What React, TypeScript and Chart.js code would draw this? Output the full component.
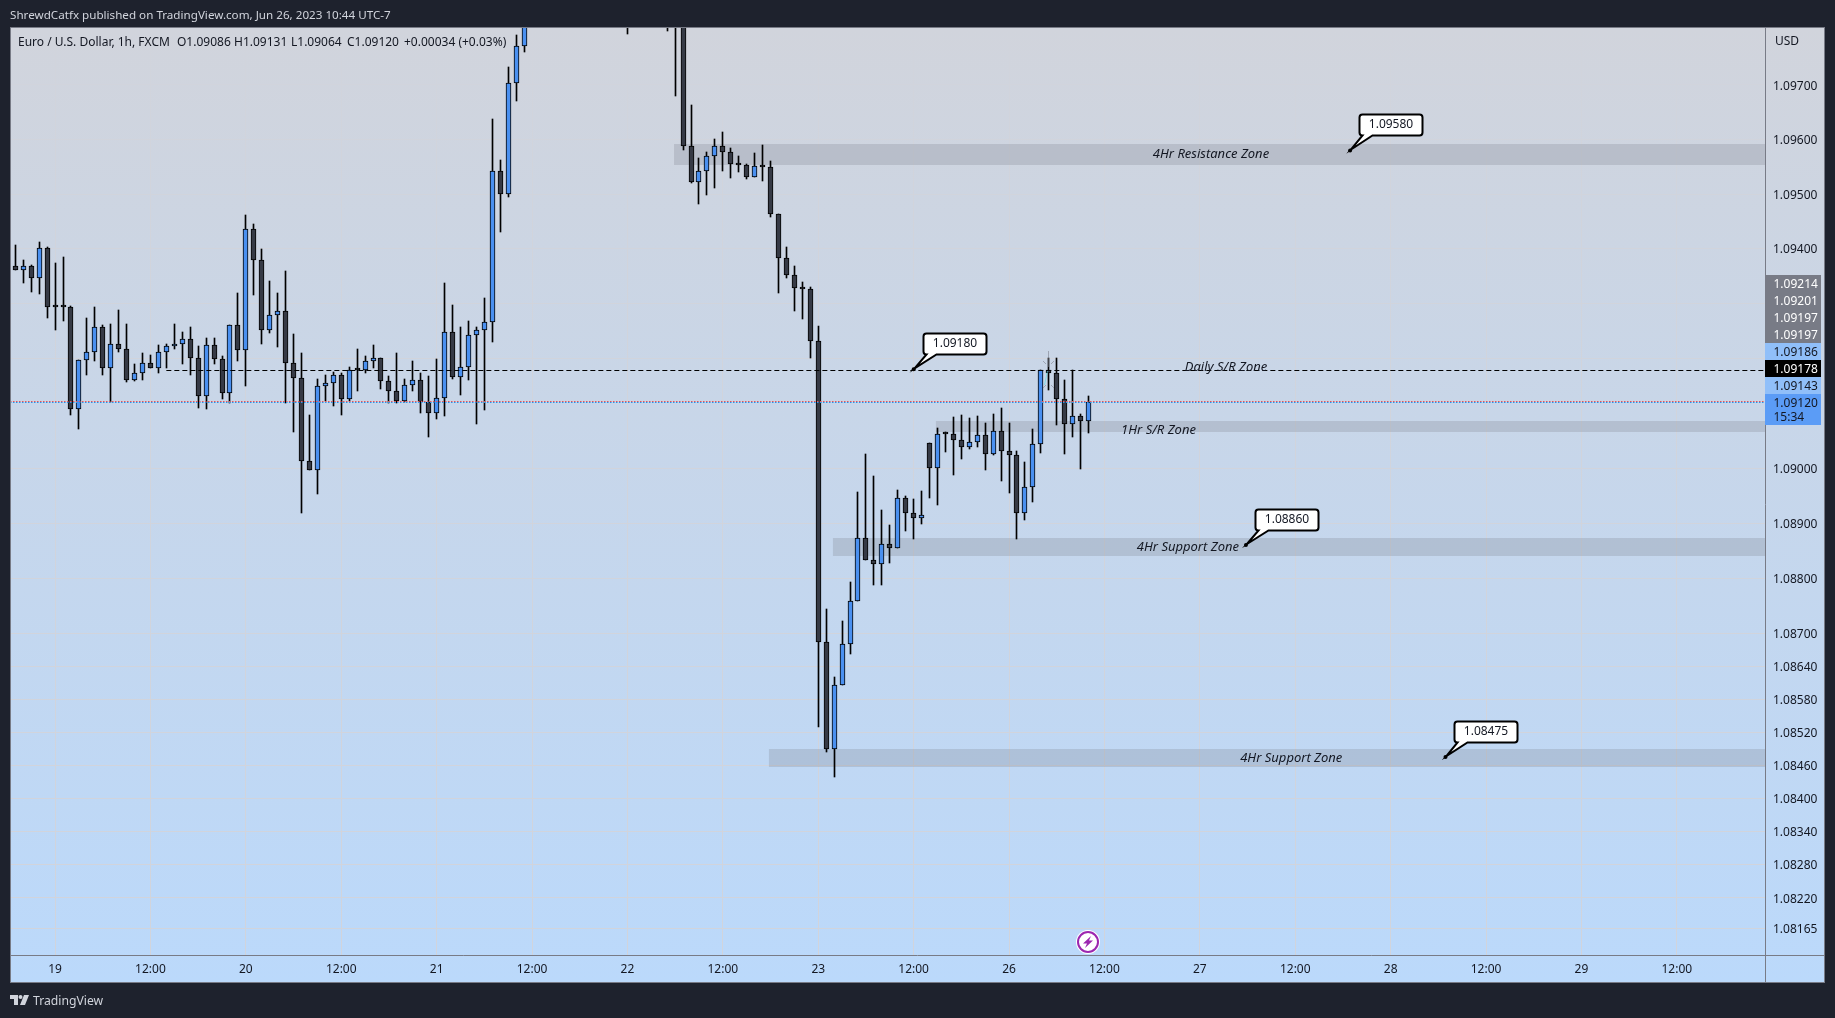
import React, { useEffect, useRef } from "react";
import { Chart, registerables } from "chart.js";

Chart.register(...registerables);

const opens = [
  1.09368,1.09362,1.09368,1.09346,1.09401,1.09293,1.09293,1.09293,1.09107,1.09197,
  1.09211,1.09258,1.09182,1.09227,1.09217,1.09160,1.09173,1.09191,1.09182,1.09211,
  1.09222,1.09227,1.09235,1.09200,1.09131,1.09224,1.09198,1.09136,1.09260,1.09215,
  1.09437,1.09379,1.09251,1.09280,1.09286,1.09191,1.09164,1.09012,1.08996,1.09149,
  1.09155,1.09169,1.09125,1.09178,1.09178,1.09195,1.09200,1.09158,1.09140,1.09122,
  1.09151,1.09160,1.09120,1.09100,1.09127,1.09248,1.09166,1.09184,1.09242,1.09251,
  1.09266,1.09543,1.09501,1.09703,1.09771,1.09836,1.09892,1.09951,1.09986,1.09965,
  1.09942,1.09958,1.09945,1.09918,1.09935,1.09925,1.09892,1.09905,1.09860,1.09890,
  1.09875,1.09880,1.09868,1.09850,1.09820,1.09588,1.09522,1.09543,1.09570,1.09588,
  1.09578,1.09556,1.09554,1.09532,1.09552,1.09550,1.09464,1.09384,1.09353,1.09328,
  1.09326,1.09231,1.08684,1.08489,1.08606,1.08680,1.08759,1.08872,1.08832,1.08825,
  1.08861,1.08855,1.08945,1.08918,1.08910,1.09045,1.09000,1.09063,1.09062,1.09051,
  1.09038,1.09047,1.09060,1.09025,1.09067,1.09031,1.09023,1.08918,1.08965,1.09043,
  1.09178,1.09173,1.09125,1.09080,1.09094,1.09086,
];
const closes = [
  1.09362,1.09368,1.09346,1.09401,1.09293,1.09293,1.09293,1.09107,1.09197,1.09211,
  1.09258,1.09182,1.09227,1.09217,1.09160,1.09173,1.09191,1.09182,1.09211,1.09222,
  1.09227,1.09235,1.09200,1.09131,1.09224,1.09198,1.09136,1.09260,1.09215,1.09437,
  1.09379,1.09251,1.09280,1.09286,1.09191,1.09164,1.09012,1.08996,1.09149,1.09155,
  1.09169,1.09125,1.09178,1.09178,1.09195,1.09200,1.09158,1.09140,1.09122,1.09151,
  1.09160,1.09120,1.09100,1.09127,1.09248,1.09166,1.09184,1.09242,1.09251,1.09266,
  1.09543,1.09501,1.09703,1.09771,1.09836,1.09892,1.09951,1.09986,1.09965,1.09942,
  1.09958,1.09945,1.09918,1.09935,1.09925,1.09892,1.09905,1.09860,1.09890,1.09875,
  1.09880,1.09868,1.09850,1.09820,1.09588,1.09522,1.09543,1.09570,1.09588,1.09578,
  1.09556,1.09554,1.09532,1.09552,1.09550,1.09464,1.09384,1.09353,1.09328,1.09326,
  1.09231,1.08684,1.08489,1.08606,1.08680,1.08759,1.08872,1.08832,1.08825,1.08861,
  1.08855,1.08945,1.08918,1.08910,1.08914,1.09000,1.09063,1.09062,1.09051,1.09038,
  1.09047,1.09060,1.09025,1.09067,1.09031,1.09023,1.08918,1.08965,1.09043,1.09178,
  1.09173,1.09125,1.09080,1.09094,1.09085,1.09120,
];
const highs = [
  1.09407,1.09379,1.09370,1.09412,1.09403,1.09375,1.09385,1.09296,1.09197,1.09274,
  1.09293,1.09260,1.09262,1.09288,1.09262,1.09189,1.09209,1.09206,1.09224,1.09226,
  1.09262,1.09248,1.09258,1.09222,1.09237,1.09237,1.09204,1.09260,1.09320,1.09461,
  1.09446,1.09399,1.09342,1.09320,1.09359,1.09244,1.09209,1.09096,1.09162,1.09169,
  1.09176,1.09174,1.09184,1.09217,1.09204,1.09224,1.09200,1.09167,1.09209,1.09162,
  1.09195,1.09173,1.09167,1.09198,1.09337,1.09297,1.09258,1.09268,1.09257,1.09310,
  1.09638,1.09562,1.09733,1.09791,1.09850,1.09905,1.09968,1.10004,1.10012,1.09990,
  1.09975,1.09985,1.09962,1.09950,1.09958,1.09944,1.09925,1.09930,1.09905,1.09915,
  1.09895,1.09900,1.09885,1.09872,1.09835,1.09663,1.09567,1.09578,1.09601,1.09614,
  1.09585,1.09570,1.09556,1.09576,1.09590,1.09561,1.09464,1.09403,1.09368,1.09339,
  1.09331,1.09259,1.08743,1.08621,1.08721,1.08792,1.08956,1.09025,1.08986,1.08923,
  1.08897,1.08961,1.08949,1.08943,1.08958,1.09045,1.09073,1.09065,1.09093,1.09096,
  1.09091,1.09094,1.09082,1.09098,1.09109,1.09083,1.09032,1.09011,1.09071,1.09178,
  1.09200,1.09200,1.09160,1.09178,1.09098,1.09131,
];
const lows = [
  1.09362,1.09338,1.09322,1.09318,1.09274,1.09251,1.09269,1.09097,1.09072,1.09170,
  1.09196,1.09169,1.09120,1.09212,1.09156,1.09158,1.09161,1.09182,1.09174,1.09183,
  1.09217,1.09190,1.09169,1.09110,1.09107,1.09189,1.09126,1.09118,1.09196,1.09150,
  1.09316,1.09227,1.09247,1.09220,1.09119,1.09065,1.08919,1.08996,1.08953,1.09122,
  1.09114,1.09097,1.09122,1.09141,1.09174,1.09183,1.09145,1.09118,1.09118,1.09120,
  1.09141,1.09101,1.09057,1.09090,1.09094,1.09163,1.09134,1.09161,1.09081,1.09105,
  1.09229,1.09431,1.09495,1.09670,1.09761,1.09826,1.09880,1.09938,1.09950,1.09930,
  1.09915,1.09935,1.09905,1.09895,1.09915,1.09880,1.09860,1.09794,1.09835,1.09860,
  1.09845,1.09850,1.09799,1.09679,1.09581,1.09520,1.09482,1.09498,1.09511,1.09542,
  1.09529,1.09540,1.09528,1.09532,1.09524,1.09458,1.09320,1.09347,1.09287,1.09272,
  1.09201,1.08529,1.08485,1.08439,1.08606,1.08662,1.08759,1.08832,1.08787,1.08787,
  1.08828,1.08855,1.08886,1.08871,1.08899,1.08946,1.08933,1.09030,1.08988,1.09017,
  1.09034,1.09039,1.08997,1.09023,1.08977,1.08955,1.08871,1.08906,1.08939,1.09028,
  1.09142,1.09079,1.09026,1.09056,1.08999,1.09064,
];

const xTickIndexes = [5,17,29,41,53,65,77,89,101,113,125,137,149,161,173,185,197,209];
const xTickLabels = ["19","12:00","20","12:00","21","12:00","22","12:00","23","12:00","26","12:00","27","12:00","28","12:00","29","12:00"];
const yTicks = [1.097,1.096,1.095,1.094,1.093,1.092,1.09,1.089,1.088,1.087,1.0864,1.0858,1.0852,1.0846,1.084,1.0834,1.0828,1.0822,1.08165];

const zoneTop = [1.09591,1.09086,1.08872,1.08489];
const zoneBottom = [1.09554,1.09066,1.08840,1.08457];
const zoneStart = [82.86,115.8,102.85,94.8];
const zoneNames = ["4Hr Resistance Zone","1Hr S/R Zone","4Hr Support Zone","4Hr Support Zone"];
const zoneNameIndex = [150.4,143.8,147.5,160.5];

const calloutLabels = ["1.09580","1.09180","1.08860","1.08475"];
const calloutPrices = [1.0958,1.0918,1.0886,1.08475];
const calloutIndex = [167.9,113,154.8,179.9];

const dailyLevel = 1.09178;
const dailyStart = 19;
const lastPrice = 1.0912;

const tagLabels = ["1.09214","1.09201","1.09197","1.09197","1.09186","1.09178","1.09143","1.09120"];
const tagFills = ["#787b86","#787b86","#787b86","#787b86","#90bff9","#000000","#90bff9","#5b9cf6"];
const tagInks = ["#ffffff","#ffffff","#ffffff","#ffffff","#131722","#ffffff","#131722","#131722"];

const legendTexts = ["Euro / U.S. Dollar, 1h, FXCM","O1.09086","H1.09131","L1.09064","C1.09120","+0.00034 (+0.03%)"];
const legendLefts = [18,177,234,291,347,404];

const FONT = '"Noto Sans", sans-serif';
const INK = "#131722";
const UP = "#4a90f0";
const DOWN = "#363a45";
const DARK = "#1e222d";
const LINE = "#787b86";

const indexes = opens.map((_, i) => i);

function snapBars(chart: any) {
  chart.getSortedVisibleDatasetMetas().forEach((meta: any) => {
    meta.data.forEach((el: any) => {
      const w = el.width;
      el.x = Math.round(el.x - w / 2) + w / 2;
      el.y = Math.round(el.y);
      el.base = Math.round(el.base);
    });
  });
}

function drawCallout(ctx: any, px: number, py: number, text: string) {
  const l = Math.round(px) + 9.5;
  const t = Math.round(py) - 35.5;
  const w = 63;
  const h = 21;
  const r = 3;
  ctx.beginPath();
  ctx.moveTo(l + r, t);
  ctx.lineTo(l + w - r, t);
  ctx.arcTo(l + w, t, l + w, t + r, r);
  ctx.lineTo(l + w, t + h - r);
  ctx.arcTo(l + w, t + h, l + w - r, t + h, r);
  ctx.lineTo(l + 13, t + h);
  ctx.lineTo(px + 1, py - 1);
  ctx.lineTo(l + 3, t + h);
  ctx.arcTo(l, t + h, l, t + h - r, r);
  ctx.lineTo(l, t + r);
  ctx.arcTo(l, t, l + r, t, r);
  ctx.closePath();
  ctx.fillStyle = "#ffffff";
  ctx.strokeStyle = "#000000";
  ctx.lineWidth = 2;
  ctx.fill();
  ctx.stroke();
  ctx.fillStyle = INK;
  ctx.font = `12px ${FONT}`;
  ctx.textAlign = "center";
  ctx.textBaseline = "middle";
  ctx.fillText(text, l + w / 2, t + h / 2);
  ctx.beginPath();
  ctx.arc(px, py, 2, 0, Math.PI * 2);
  ctx.fillStyle = "#000000";
  ctx.fill();
}

const framePlugin = {
  id: "frame",
  beforeDraw(chart: any) {
    const { ctx, width, height } = chart;
    ctx.save();
    ctx.fillStyle = DARK;
    ctx.fillRect(0, 0, width, height);
    const g = ctx.createLinearGradient(0, 27, 0, 982);
    g.addColorStop(0, "#d1d4dc");
    g.addColorStop(1, "#bbd9fb");
    ctx.fillStyle = g;
    ctx.fillRect(10, 27, 1815, 955);
    ctx.restore();
  },
  beforeDatasetsDraw(chart: any) {
    const { ctx, chartArea, scales } = chart;
    const { x, y } = scales;
    ctx.save();
    ctx.fillStyle = "rgba(120,123,134,0.25)";
    zoneTop.forEach((top, i) => {
      const left = x.getPixelForValue(zoneStart[i]);
      const t = Math.round(y.getPixelForValue(top));
      const b = Math.round(y.getPixelForValue(zoneBottom[i]));
      ctx.fillRect(left, t, chartArea.right - left, b - t);
    });
    ctx.restore();
  },
  afterDatasetsDraw(chart: any) {
    const { ctx, chartArea, scales } = chart;
    const { x, y } = scales;
    ctx.save();
    // zone names
    ctx.fillStyle = INK;
    ctx.font = `italic 13px ${FONT}`;
    ctx.textAlign = "center";
    ctx.textBaseline = "middle";
    zoneNames.forEach((name, i) => {
      const yy = (y.getPixelForValue(zoneTop[i]) + y.getPixelForValue(zoneBottom[i])) / 2;
      ctx.fillText(name, x.getPixelForValue(zoneNameIndex[i]), yy + (i === 1 ? 4 : 0));
    });
    // daily S/R
    const dy = Math.round(y.getPixelForValue(dailyLevel)) + 0.5;
    ctx.strokeStyle = "#000000";
    ctx.lineWidth = 1;
    ctx.setLineDash([5, 3]);
    ctx.beginPath();
    ctx.moveTo(x.getPixelForValue(dailyStart), dy);
    ctx.lineTo(chartArea.right, dy);
    ctx.stroke();
    ctx.setLineDash([]);
    ctx.fillText("Daily S/R Zone", 1226, dy - 3);
    // selection marks left on the drawing
    ctx.strokeStyle = "rgba(120,123,134,0.55)";
    ctx.beginPath();
    ctx.moveTo(1048.5, 351);
    ctx.lineTo(1048.5, 367);
    ctx.stroke();
    [[1043, 361, 1, 1], [1054, 361, -1, 1], [1043, 388, 1, -1], [1054, 388, -1, -1]].forEach(([ax, ay, sx, sy]) => {
      ctx.beginPath();
      ctx.moveTo(ax, ay);
      ctx.lineTo(ax + 3 * sx, ay + 3 * sy);
      ctx.stroke();
    });
    ctx.strokeStyle = "rgba(80,220,230,0.6)";
    ctx.beginPath();
    ctx.moveTo(1047.5, 371);
    ctx.lineTo(1044.5, 385);
    ctx.stroke();
    // last price line
    const ly = Math.round(y.getPixelForValue(lastPrice)) - 1;
    ctx.setLineDash([1.5, 1.5]);
    ctx.strokeStyle = "#ef5350";
    ctx.beginPath();
    ctx.moveTo(chartArea.left, ly + 0.5);
    ctx.lineTo(chartArea.right, ly + 0.5);
    ctx.stroke();
    ctx.strokeStyle = "#2196f3";
    ctx.beginPath();
    ctx.moveTo(chartArea.left, ly + 1.5);
    ctx.lineTo(chartArea.right, ly + 1.5);
    ctx.stroke();
    ctx.setLineDash([]);
    // callouts
    calloutLabels.forEach((label, i) => {
      drawCallout(ctx, x.getPixelForValue(calloutIndex[i]), y.getPixelForValue(calloutPrices[i]), label);
    });
    ctx.restore();
  },
  afterDraw(chart: any) {
    const { ctx } = chart;
    ctx.save();
    // frame and axis lines
    ctx.strokeStyle = LINE;
    ctx.lineWidth = 1;
    ctx.strokeRect(10.5, 27.5, 1814, 955);
    ctx.beginPath();
    ctx.moveTo(1765.5, 27);
    ctx.lineTo(1765.5, 982);
    ctx.moveTo(10, 955.5);
    ctx.lineTo(1825, 955.5);
    ctx.stroke();
    // price tags
    ctx.textAlign = "left";
    ctx.textBaseline = "middle";
    ctx.font = `12px ${FONT}`;
    tagLabels.forEach((label, i) => {
      const top = 275 + i * 17;
      const h = i === tagLabels.length - 1 ? 31 : 17;
      ctx.fillStyle = tagFills[i];
      ctx.fillRect(1765, top, 56, h);
      ctx.fillStyle = tagInks[i];
      ctx.fillText(label, 1773.5, top + 10);
    });
    ctx.fillStyle = INK;
    ctx.fillText("15:34", 1773.5, 418);
    ctx.fillText("USD", 1775, 42);
    // header, legend, footer
    ctx.fillStyle = "#d1d4dc";
    ctx.font = `11.65px ${FONT}`;
    ctx.fillText("ShrewdCatfx published on TradingView.com, Jun 26, 2023 10:44 UTC-7", 10, 16);
    ctx.fillStyle = INK;
    ctx.font = `12px ${FONT}`;
    legendTexts.forEach((text, i) => ctx.fillText(text, legendLefts[i], 43));
    ctx.fillStyle = "#d1d4dc";
    ctx.font = `12.2px ${FONT}`;
    ctx.fillText("TradingView", 33, 1002);
    ctx.beginPath();
    ctx.moveTo(10, 995);
    ctx.lineTo(18, 995);
    ctx.lineTo(18, 1005);
    ctx.lineTo(14, 1005);
    ctx.lineTo(14, 999);
    ctx.lineTo(10, 999);
    ctx.closePath();
    ctx.moveTo(24, 995);
    ctx.lineTo(29, 995);
    ctx.lineTo(25, 1005);
    ctx.lineTo(20, 1005);
    ctx.closePath();
    ctx.fill();
    ctx.beginPath();
    ctx.arc(20.5, 997, 2, 0, Math.PI * 2);
    ctx.fill();
    // lightning marker
    ctx.beginPath();
    ctx.arc(1088, 942, 12, 0, Math.PI * 2);
    ctx.fillStyle = "#ffffff";
    ctx.fill();
    ctx.beginPath();
    ctx.arc(1088, 942, 10, 0, Math.PI * 2);
    ctx.strokeStyle = "#9c27b0";
    ctx.lineWidth = 2;
    ctx.stroke();
    ctx.beginPath();
    ctx.moveTo(1091, 936);
    ctx.lineTo(1083, 943.5);
    ctx.lineTo(1087, 943.5);
    ctx.lineTo(1085, 948);
    ctx.lineTo(1093, 940.5);
    ctx.lineTo(1089, 940.5);
    ctx.closePath();
    ctx.fillStyle = "#9c27b0";
    ctx.fill();
    ctx.restore();
  },
};

const snapPlugin = { id: "snap", afterDatasetsUpdate: snapBars };

export default function App() {
  const ref = useRef<HTMLCanvasElement>(null);
  useEffect(() => {
    const chart = new Chart(ref.current as any, {
      type: "bar",
      data: {
        datasets: [
          {
            label: "Body",
            order: 1,
            data: indexes.map((i) => ({ x: i, y: [opens[i], closes[i]] })),
            backgroundColor: indexes.map((i) => (closes[i] > opens[i] ? UP : DOWN)),
            borderColor: "#000000",
            borderWidth: 1,
            borderSkipped: false,
            barThickness: 5,
            minBarLength: 2,
            grouped: false,
          },
          {
            label: "Wick",
            order: 2,
            data: indexes.map((i) => ({ x: i, y: [lows[i], highs[i]] })),
            backgroundColor: "#000000",
            borderWidth: 0,
            barThickness: 1,
            grouped: false,
          },
        ] as any,
      },
      options: {
        animation: false,
        responsive: false,
        maintainAspectRatio: false,
        devicePixelRatio: 1,
        layout: { padding: { left: 10, right: 10, top: 27, bottom: 36 } },
        plugins: { legend: { display: false }, tooltip: { enabled: false } },
        scales: {
          x: {
            type: "linear",
            offset: false,
            min: -0.667,
            max: 220.09,
            grid: { color: "#d1d4dc", drawTicks: false, offset: false },
            border: { display: false },
            ticks: {
              autoSkip: false,
              maxRotation: 0,
              padding: 7,
              color: INK,
              font: { family: FONT, size: 12 },
              callback: (v: any) => xTickLabels[xTickIndexes.indexOf(v)],
            },
            afterBuildTicks: (s: any) => {
              s.ticks = xTickIndexes.map((value) => ({ value }));
            },
            afterFit: (s: any) => {
              s.height = 27;
            },
          },
          y: {
            type: "logarithmic",
            position: "right",
            min: 1.081168,
            max: 1.098063,
            grid: { color: "#d1d4dc", drawTicks: false },
            border: { display: false },
            ticks: {
              autoSkip: false,
              padding: 8,
              labelOffset: 1.2,
              color: INK,
              font: { family: FONT, size: 12 },
              callback: (v: any) => Number(v).toFixed(5),
            },
            afterBuildTicks: (s: any) => {
              s.ticks = yTicks.map((value) => ({ value }));
            },
            afterFit: (s: any) => {
              s.width = 60;
            },
          },
        },
      },
      plugins: [framePlugin, snapPlugin],
    } as any);
    return () => chart.destroy();
  }, []);
  return (
    <div style={{ position: "absolute", left: 0, top: 0, width: 1835, height: 1018 }}>
      <canvas ref={ref} width={1835} height={1018} style={{ display: "block" }} />
    </div>
  );
}
